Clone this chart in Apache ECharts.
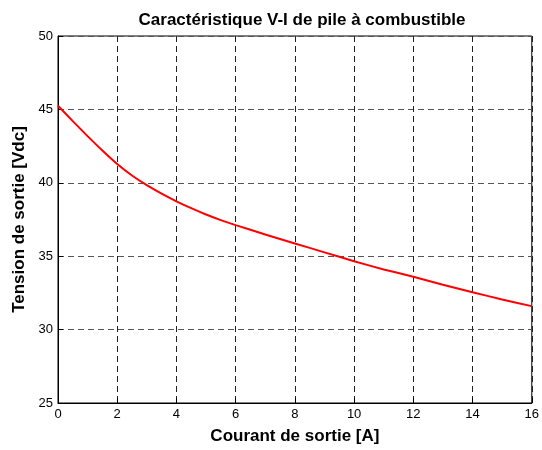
<!DOCTYPE html>
<html>
<head>
<meta charset="utf-8">
<script src="https://cdn.jsdelivr.net/npm/echarts@6/dist/echarts.min.js"></script>
<style>html,body{margin:0;padding:0;background:#fff;}#c{width:542px;height:450px;}</style>
</head>
<body>
<div id="c"></div>
<script>
const current = [0, 0.5, 1, 1.5, 2, 2.5, 3, 3.5, 4, 4.5, 5, 5.5, 6, 7, 8, 9, 10, 11, 12, 13, 14, 15, 16];
const voltage = [45.25, 44.2, 43.18, 42.2, 41.28, 40.5, 39.84, 39.26, 38.74, 38.27, 37.84, 37.46, 37.12, 36.48, 35.87, 35.26, 34.66, 34.1, 33.6, 33.05, 32.55, 32.05, 31.6];
const xTicks = [0, 2, 4, 6, 8, 10, 12, 14, 16];
const yTicks = [25, 30, 35, 40, 45, 50];

const chart = echarts.init(document.getElementById('c'));
const font = 'Liberation Sans, Arial, Helvetica, sans-serif';
chart.setOption({
  animation: false,
  backgroundColor: '#fff',
  title: {
    text: 'Caractéristique V-I de pile à combustible',
    left: 297, textAlign: 'center', top: 7,
    textStyle: {fontFamily: font, fontWeight: 'bold', fontSize: 17, color: '#000'}
  },
  grid: {left: 58, right: 6, top: 36, bottom: 44, show: true, borderColor: '#000', borderWidth: 1, backgroundColor: '#fff'},
  xAxis: {
    type: 'value', min: xTicks[0], max: xTicks[xTicks.length - 1], interval: 2,
    name: 'Courant de sortie [A]', nameLocation: 'middle', nameGap: 25,
    nameTextStyle: {fontFamily: font, fontWeight: 'bold', fontSize: 17, color: '#000'},
    axisLine: {show: true, lineStyle: {color: '#000'}},
    axisTick: {show: true, inside: true, length: 5, lineStyle: {color: '#000'}},
    axisLabel: {fontFamily: font, fontSize: 13, color: '#000', margin: 5},
    splitLine: {show: true, lineStyle: {type: [6, 4], color: '#222', width: 1}}
  },
  yAxis: {
    type: 'value', min: yTicks[0], max: yTicks[yTicks.length - 1], interval: 5,
    name: 'Tension de sortie [Vdc]', nameLocation: 'middle', nameGap: 28, nameRotate: 90,
    nameTextStyle: {fontFamily: font, fontWeight: 'bold', fontSize: 17, color: '#000'},
    axisLine: {show: true, lineStyle: {color: '#000'}},
    axisTick: {show: true, inside: true, length: 5, lineStyle: {color: '#000'}},
    axisLabel: {fontFamily: font, fontSize: 13, color: '#000', margin: 5},
    splitLine: {show: true, lineStyle: {type: [6, 4], color: '#555', width: 1}}
  },
  series: [{
    type: 'line',
    data: current.map((x, i) => [x, voltage[i]]),
    smooth: 0.2,
    showSymbol: false,
    lineStyle: {color: '#ff0000', width: 2},
    z: 5
  }]
});
</script>
</body>
</html>
